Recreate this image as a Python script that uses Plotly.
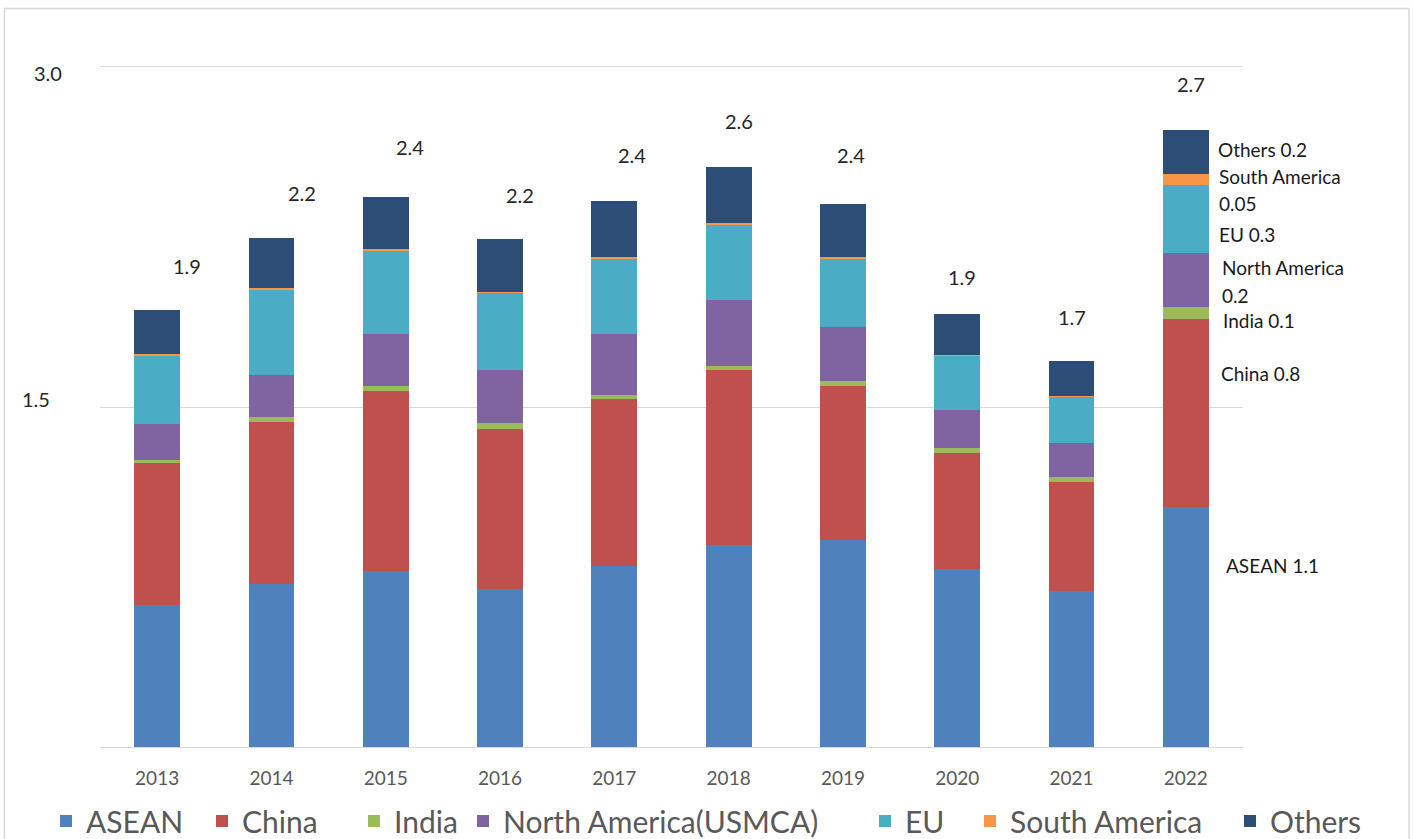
import plotly.graph_objects as go

# Exports by destination, trillion yen (stacked by region)
years = ["2013", "2014", "2015", "2016", "2017", "2018", "2019", "2020", "2021", "2022"]
asean = [0.625, 0.721, 0.775, 0.699, 0.798, 0.889, 0.915, 0.786, 0.687, 1.06]
china = [0.628, 0.713, 0.794, 0.706, 0.736, 0.773, 0.679, 0.513, 0.482, 0.83]
india = [0.012, 0.022, 0.022, 0.024, 0.020, 0.021, 0.020, 0.018, 0.020, 0.05]
north_america = [0.159, 0.187, 0.230, 0.233, 0.267, 0.289, 0.238, 0.169, 0.153, 0.24]
eu = [0.305, 0.376, 0.370, 0.341, 0.336, 0.335, 0.304, 0.240, 0.204, 0.30]
south_america = [0.003, 0.005, 0.004, 0.005, 0.004, 0.004, 0.004, 0.003, 0.003, 0.05]
others = [0.195, 0.220, 0.231, 0.232, 0.250, 0.249, 0.237, 0.182, 0.154, 0.19]

series = [
    ("ASEAN", asean, "#4F81BD"),
    ("China", china, "#C0504D"),
    ("India", india, "#9BBB59"),
    ("North America(USMCA)", north_america, "#8064A2"),
    ("EU", eu, "#4BACC6"),
    ("South America", south_america, "#F79646"),
    ("Others", others, "#2C4D75"),
]

totals = [sum(vals) for vals in zip(asean, china, india, north_america, eu, south_america, others)]

# label offsets (pixels) for the yearly totals
total_dx = [30, 31, 24, 20, 18, 10, 8, 5, 0, 5]
total_dy = [44, 45, 50, 44, 46, 46, 49, 37, 44, 46]

# left edge (px) of each legend entry's text
legend_text_x = [91, 247, 399, 508, 910, 1015, 1275]

FONT = "Lato, 'Open Sans', sans-serif"
W, H = 1413, 839

fig = go.Figure()
legend_layouts = {}
for i, ((name, vals, color), tx) in enumerate(zip(series, legend_text_x)):
    lname = "legend" if i == 0 else f"legend{i + 1}"
    fig.add_trace(go.Bar(
        x=years, y=vals, name=name, legend=lname,
        marker=dict(color=color, line=dict(width=0)),
    ))
    legend_layouts[lname] = dict(
        orientation="h", xref="container", yref="container",
        x=(tx - 45) / W, xanchor="left", y=(839 - 821) / H, yanchor="middle",
        font=dict(size=30, color="#595959", family=FONT),
        itemclick=False, bgcolor="rgba(0,0,0,0)",
    )

annotations = []
for i, (tot, dx, dy) in enumerate(zip(totals, total_dx, total_dy)):
    annotations.append(dict(
        x=i, y=tot, xref="x", yref="y", text=f"{tot:.1f}", showarrow=False,
        xshift=dx, yshift=dy, font=dict(size=20, color="#262626", family=FONT),
    ))

# breakdown labels beside the latest bar
last = len(years) - 1
side_labels = [
    (f"Others {others[last]:.1f}", 2.638, 30),
    ("South America", 2.517, 31),
    (f"{south_america[last]:.2f}", 2.396, 31),
    (f"EU {eu[last]:.1f}", 2.261, 31),
    ("North America", 2.114, 34),
    (f"{north_america[last]:.1f}", 1.994, 34),
    (f"India {india[last]:.1f}", 1.882, 35),
    (f"China {china[last]:.1f}", 1.648, 33),
    (f"ASEAN {asean[last]:.1f}", 0.799, 38),
]
for text, ypos, dx in side_labels:
    annotations.append(dict(
        x=last, y=ypos, xref="x", yref="y", text=text, showarrow=False,
        xanchor="left", xshift=dx, font=dict(size=19, color="#1a1a1a", family=FONT),
    ))

# y-axis value labels
for text, yv, xp, dy in [("3.0", 3.0, -0.0455, -6), ("1.5", 1.5, -0.056, 8)]:
    annotations.append(dict(
        x=xp, y=yv, xref="paper", yref="y", text=text, showarrow=False,
        xanchor="center", yshift=dy, font=dict(size=20, color="#262626", family=FONT),
    ))

fig.update_layout(
    width=W, height=H,
    margin=dict(l=100, r=170, t=67, b=92, autoexpand=False),
    barmode="stack", bargap=0.6,
    plot_bgcolor="white", paper_bgcolor="white",
    font=dict(family=FONT, color="#595959"),
    showlegend=True,
    annotations=annotations,
    shapes=[dict(
        type="rect", xref="paper", yref="paper",
        x0=-0.0836, x1=1.1452, y0=-0.16, y1=1.086,
        line=dict(color="#d9d9d9", width=1.5), fillcolor="rgba(0,0,0,0)", layer="below",
    )],
    **legend_layouts,
)
fig.update_xaxes(
    type="category", range=[-0.5, len(years) - 0.5], autorange=False,
    showgrid=False, showline=True, mirror=True, linecolor="#d9d9d9", linewidth=1,
    ticks="", ticklabelstandoff=14,
    tickfont=dict(size=19, color="#595959", family=FONT),
)
fig.update_yaxes(
    range=[0, 3], tickvals=[0, 1.5, 3.0], showticklabels=False,
    showgrid=True, gridcolor="#d9d9d9", gridwidth=1, zeroline=False, showline=False,
)

fig.write_html("out.html")
